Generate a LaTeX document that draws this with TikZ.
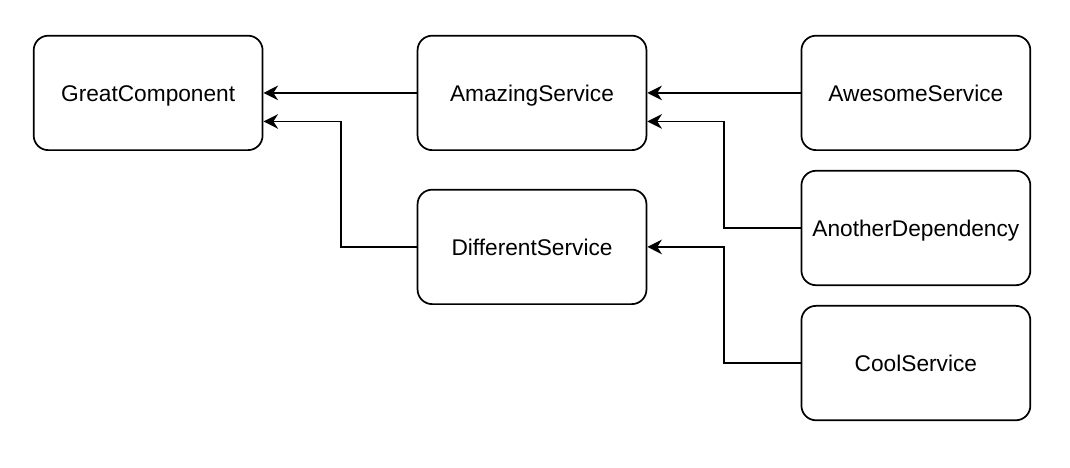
\documentclass[tikz,border=0pt]{standalone}
\usepackage{fontspec}
\setmainfont{Liberation Sans}
\usetikzlibrary{positioning,arrows.meta}

\tikzset{
  service/.style={draw, line width=1.3pt, rounded corners=11pt, minimum width=172.5pt,
    minimum height=86.25pt, inner sep=0pt, text height=13pt, text depth=0pt,
    font=\fontsize{17.1}{20}\selectfont},
  dep/.style={line width=1.3pt, -{Stealth[length=11pt,width=11pt,inset=3.5pt]}}
}

\begin{document}
\begin{tikzpicture}
  \node[service] (great) {GreatComponent};
  \node[service, right=115.5pt of great] (amazing) {AmazingService};
  \node[service, below=28.5pt of amazing] (different) {DifferentService};
  \node[service, right=115.5pt of amazing] (awesome) {AwesomeService};
  \node[service, below=14.25pt of awesome] (another) {AnotherDependency};
  \node[service, below=14.25pt of another] (cool) {CoolService};

  % margins
  \useasboundingbox ([xshift=-24.75pt,yshift=26.25pt]great.north west)
    rectangle ([xshift=29.25pt,yshift=-35.25pt]cool.south east);

  \coordinate (greatlow) at ([yshift=-21.5pt]great.east);
  \coordinate (amazinglow) at ([yshift=-21.5pt]amazing.east);

  \draw[dep] (amazing) -- (great);
  \draw[dep] (different.west) -- ++(-57pt,0) |- (greatlow);
  \draw[dep] (awesome) -- (amazing);
  \draw[dep] (another.west) -- ++(-57.75pt,0) |- (amazinglow);
  \draw[dep] (cool.west) -- ++(-57.75pt,0) |- (different.east);
\end{tikzpicture}
\end{document}
